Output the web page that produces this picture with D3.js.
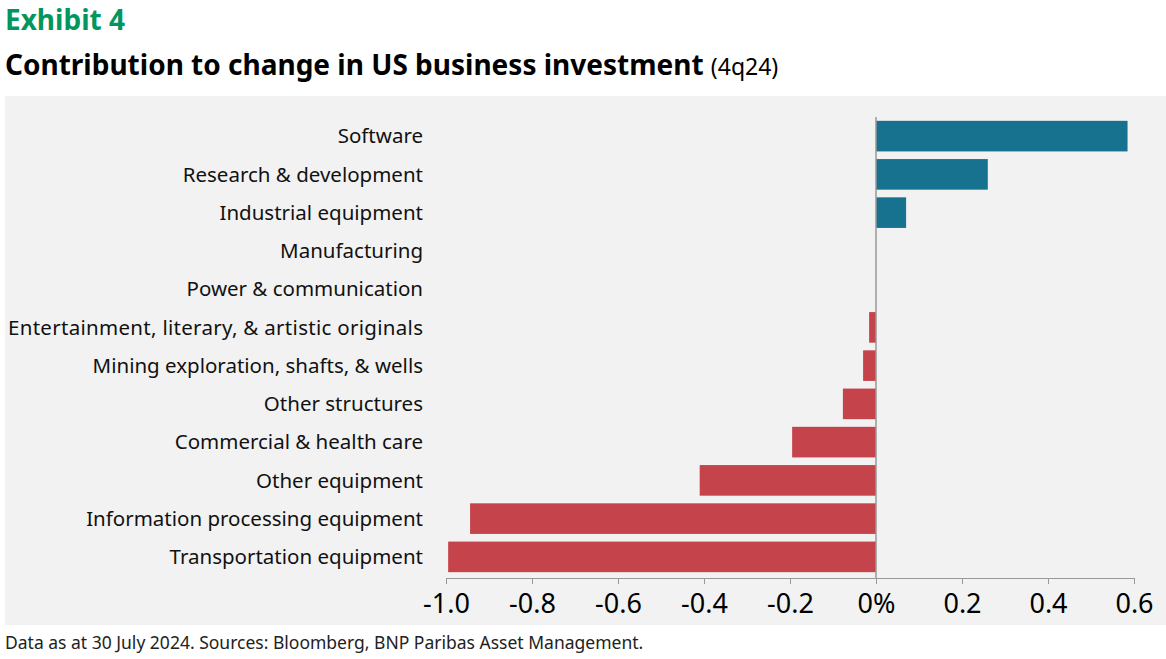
<!DOCTYPE html>
<html><head><meta charset="utf-8">
<script src="https://cdn.jsdelivr.net/npm/d3@7"></script>
<style>body{margin:0;background:#fff}svg{display:block}</style>
</head><body>
<script>
var categories = ["Software","Research & development","Industrial equipment","Manufacturing","Power & communication","Entertainment, literary, & artistic originals","Mining exploration, shafts, & wells","Other structures","Commercial & health care","Other equipment","Information processing equipment","Transportation equipment"];
var values = [0.585,0.26,0.07,0,0,-0.016,-0.03,-0.077,-0.195,-0.41,-0.944,-0.995];
var tickValues = [-1.0,-0.8,-0.6,-0.4,-0.2,0,0.2,0.4,0.6];
var tickLabels = ["-1.0","-0.8","-0.6","-0.4","-0.2","0%","0.2","0.4","0.6"];

var W = 1166, H = 659, font = "'Noto Sans', sans-serif";
var svg = d3.select(document.body).append("svg").attr("width", W).attr("height", H).style("font-family", font);

svg.append("text").attr("x", 5).attr("y", 30).attr("fill", "#00965e")
  .attr("font-size", 28).attr("font-weight", "bold").text("Exhibit 4");
var st = svg.append("text").attr("x", 5).attr("y", 75).attr("fill", "#000").attr("font-size", 28).attr("font-weight", "bold");
st.append("tspan").text("Contribution to change in US business investment ");
st.append("tspan").attr("font-weight", "normal").attr("font-size", 23).text("(4q24)");

svg.append("rect").attr("x", 5).attr("y", 96).attr("width", W - 5).attr("height", 529).attr("fill", "#f2f2f2");

var x = d3.scaleLinear().domain([-1.0, 0.6]).range([446, 1134]);
var y = d3.scaleBand().domain(categories).range([117, 576]).paddingInner(0.2).paddingOuter(0.1);

svg.selectAll("rect.bar").data(values).join("rect").attr("class", "bar")
  .attr("x", d => x(Math.min(0, d))).attr("width", d => Math.abs(x(d) - x(0)))
  .attr("y", (d, i) => y(categories[i])).attr("height", y.bandwidth())
  .attr("fill", d => d >= 0 ? "#17728f" : "#c5434b");

svg.append("line").attr("x1", x(0)).attr("x2", x(0)).attr("y1", 117).attr("y2", 578).attr("stroke", "#999").attr("stroke-width", 1.5);

svg.selectAll("text.cat").data(categories).join("text").attr("class", "cat")
  .attr("x", 423).attr("y", d => y(d) + y.bandwidth() / 2).attr("dy", "0.35em")
  .attr("text-anchor", "end").attr("font-size", 20.5).attr("fill", "#111")
  .attr("textLength", function(d) { return d.length > 40 ? 415 : null; })
  .text(d => d);

var ax = svg.append("g").attr("transform", "translate(0,578)")
  .call(d3.axisBottom(x).tickValues(tickValues).tickFormat((d, i) => tickLabels[i]).tickSize(6).tickPadding(10));
ax.select(".domain").attr("stroke", "#999");
ax.selectAll(".tick line").attr("stroke", "#999");
ax.selectAll(".tick text").attr("font-size", 27).attr("font-family", font).attr("fill", "#000");

svg.append("text").attr("x", 5).attr("y", 649).attr("font-size", 17.5).attr("fill", "#222")
  .text("Data as at 30 July 2024. Sources: Bloomberg, BNP Paribas Asset Management.");
</script>
</body></html>
